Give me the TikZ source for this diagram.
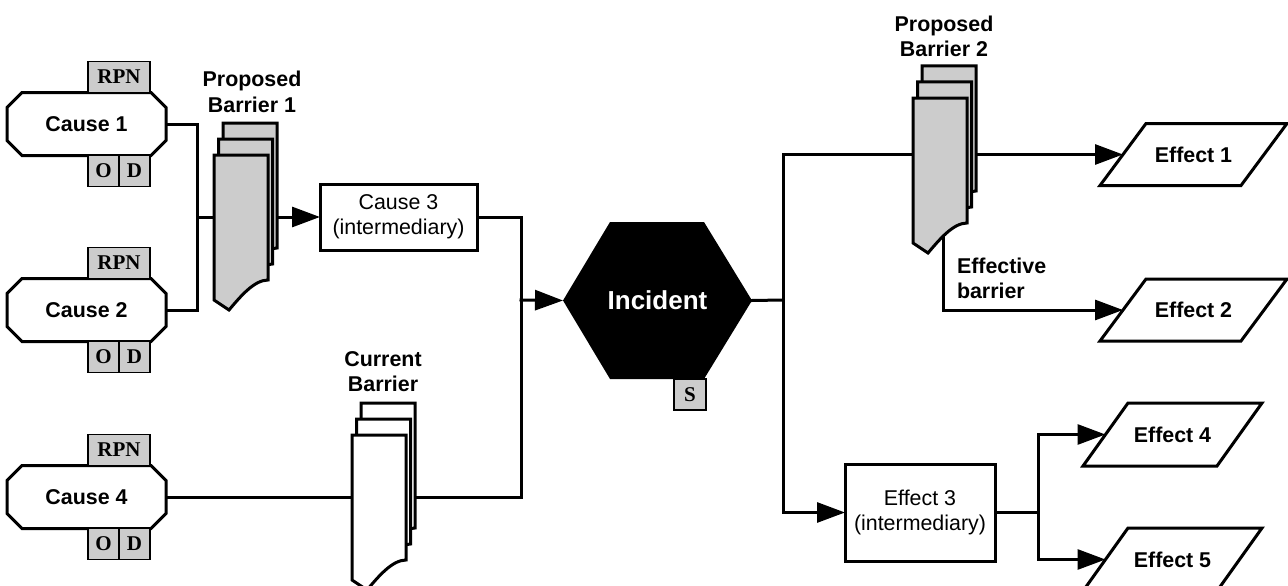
\documentclass[tikz,border=0pt]{standalone}
\usepackage{fontspec}
\setmainfont{Liberation Sans}
\newfontfamily\tnr{Liberation Serif}
\usetikzlibrary{arrows.meta,calc}
\pgfdeclarelayer{conn}
\pgfdeclarelayer{shp}
\pgfsetlayers{conn,shp,main}
\tikzset{
  lw/.style={line width=3pt},
  conn/.style={lw, draw=black, line cap=rect},
  arr/.style={conn, -{Triangle[length=28pt,width=20pt]}},
  lbl/.style={font=\fontsize{21.4pt}{25pt}\selectfont\bfseries, inner sep=0pt, outer sep=0pt},
  octtext/.style={lbl, minimum width=159pt, minimum height=63pt},
  partext/.style={lbl, minimum height=62pt},
  gbox/.style={draw=black, line width=1.3pt, fill=black!20, inner sep=0pt, outer sep=0pt,
    font=\tnr\fontsize{21pt}{24pt}\selectfont\bfseries, minimum height=31pt},
  ibox/.style={draw=black, lw, fill=white, inner sep=0pt, outer sep=0pt, align=center,
    font=\fontsize{21.4pt}{25pt}\selectfont},
  shapeline/.style={lw, draw=black, line join=miter},
}
\newcommand\octagon[1]{%
  \begin{pgfonlayer}{shp}
  \draw[shapeline, fill=white] ($(#1.north west)+(15,0)$) -- ($(#1.north east)+(-15,0)$)
    -- ($(#1.north east)+(0,15)$) -- ($(#1.south east)+(0,-15)$)
    -- ($(#1.south east)+(-15,0)$) -- ($(#1.south west)+(15,0)$)
    -- ($(#1.south west)+(0,-15)$) -- ($(#1.north west)+(0,15)$) -- cycle;
  \end{pgfonlayer}}
\newcommand\parall[2]{%
  \begin{pgfonlayer}{shp}
  \draw[shapeline, fill=white] ($(#1.north west)+(#2,0)$) -- (#1.north east)
    -- ($(#1.south east)+(-#2,0)$) -- (#1.south west) -- cycle;
  \end{pgfonlayer}}
\newcommand\barriershape[3]{%
  \begin{scope}[shift={(#1,#2)}]
  \draw[shapeline, fill=#3] (0,0) -- (54,0) -- (54,125)
    .. controls (40,125) and (26,142) .. (15,155) -- (0,145) -- cycle;
  \end{scope}}
\newcommand\barrier[3]{%
  \begin{pgfonlayer}{shp}
  \barriershape{#1+9}{#2-32}{#3}
  \barriershape{#1+4.5}{#2-16}{#3}
  \barriershape{#1}{#2}{#3}
  \end{pgfonlayer}}
\begin{document}
\begin{tikzpicture}[x=1pt,y=-1pt]
\useasboundingbox (0,0) rectangle (1288,586);

% causes
\node[octtext] (c1) at (86.5,124) {Cause 1};
\node[octtext] (c2) at (86.5,310) {Cause 2};
\node[octtext] (c4) at (86.5,497) {Cause 4};
\octagon{c1}\octagon{c2}\octagon{c4}
\foreach \c in {c1,c2,c4}{
  \node[gbox, minimum width=62pt, anchor=south east] (\c rpn) at ($(\c.north east)+(-16,0)$) {RPN};
  \node[gbox, minimum width=31pt, anchor=north east] (\c o) at ($(\c.south east)+(-47,0)$) {O};
  \node[gbox, minimum width=31pt, anchor=north east] (\c d) at ($(\c.south east)+(-16,0)$) {D};
}

% intermediaries
\node[ibox, minimum width=157pt, minimum height=66pt] (c3) at (398.5,217) {Cause 3\\(intermediary)};
\node[ibox, minimum width=150pt, minimum height=97pt] (e3) at (920,512.5) {Effect 3\\(intermediary)};

% incident
\node[lbl, font=\fontsize{26pt}{30pt}\selectfont\bfseries, text=white, minimum width=189pt, minimum height=157pt] (inc) at (657.5,300.5) {Incident};
\begin{pgfonlayer}{shp}
\fill[black] (inc.west) -- ($(inc.north west)+(47,0)$) -- ($(inc.north east)+(-48,0)$)
  -- (inc.east) -- ($(inc.south east)+(-48,0)$) -- ($(inc.south west)+(47,0)$) -- cycle;
\end{pgfonlayer}
\node[gbox, minimum width=32pt, anchor=north east] (incs) at ($(inc.south east)+(-46,0)$) {S};

% effects
\node[partext, minimum width=187pt] (e1) at (1193.5,154.5) {Effect 1};
\node[partext, minimum width=187pt] (e2) at (1193.5,310) {Effect 2};
\node[partext, minimum width=179pt, minimum height=63pt] (e4) at (1172.5,434.5) {Effect 4};
\node[partext, minimum width=179pt, minimum height=63pt] (e5) at (1172.5,559.5) {Effect 5};
\parall{e1}{46}\parall{e2}{46}\parall{e4}{45}\parall{e5}{45}
\coordinate (e1in) at ($(e1.west)+(23,0)$);
\coordinate (e2in) at ($(e2.west)+(23,0)$);
\coordinate (e4in) at ($(e4.west)+(22.5,0)$);
\coordinate (e5in) at ($(e5.west)+(22.5,0)$);

% barriers
\barrier{214}{155}{black!20}
\barrier{352}{435}{white}
\barrier{913}{98}{black!20}
\node[lbl, align=center, anchor=base] (pb1) at (252,112) {Proposed\\Barrier 1};
\node[lbl, align=center, anchor=base] (cb) at (383,391) {Current\\Barrier};
\node[lbl, align=center, anchor=base] (pb2) at (944,57) {Proposed\\Barrier 2};
\node[lbl, align=left, anchor=base west] (eb) at (957,298) {Effective\\barrier};

% connectors
\coordinate (j1) at (197,217);
\coordinate (j2) at (521,300);
\coordinate (j3) at (783,300);
\coordinate (j4) at (1038,512.5);
\coordinate (effb) at (943,225);
\begin{pgfonlayer}{conn}
\draw[conn] (c1.east) -| (j1);
\draw[conn] (c2.east) -| (j1);
\draw[arr] (j1) -- (c3.west);
\draw[conn] (c3.east) -| (j2);
\draw[conn] (c4.east) -| (j2);
\draw[arr] (j2) -- (inc.west);
\draw[conn] (inc.east) -- (j3);
\draw[arr] (j3) |- (e1in);
\draw[arr] (j3) |- (e3.west);
\draw[arr] (effb) |- (e2in);
\draw[conn] (e3.east) -- (j4);
\draw[arr] (j4) |- (e4in);
\draw[arr] (j4) |- (e5in);
\end{pgfonlayer}
\end{tikzpicture}
\end{document}
